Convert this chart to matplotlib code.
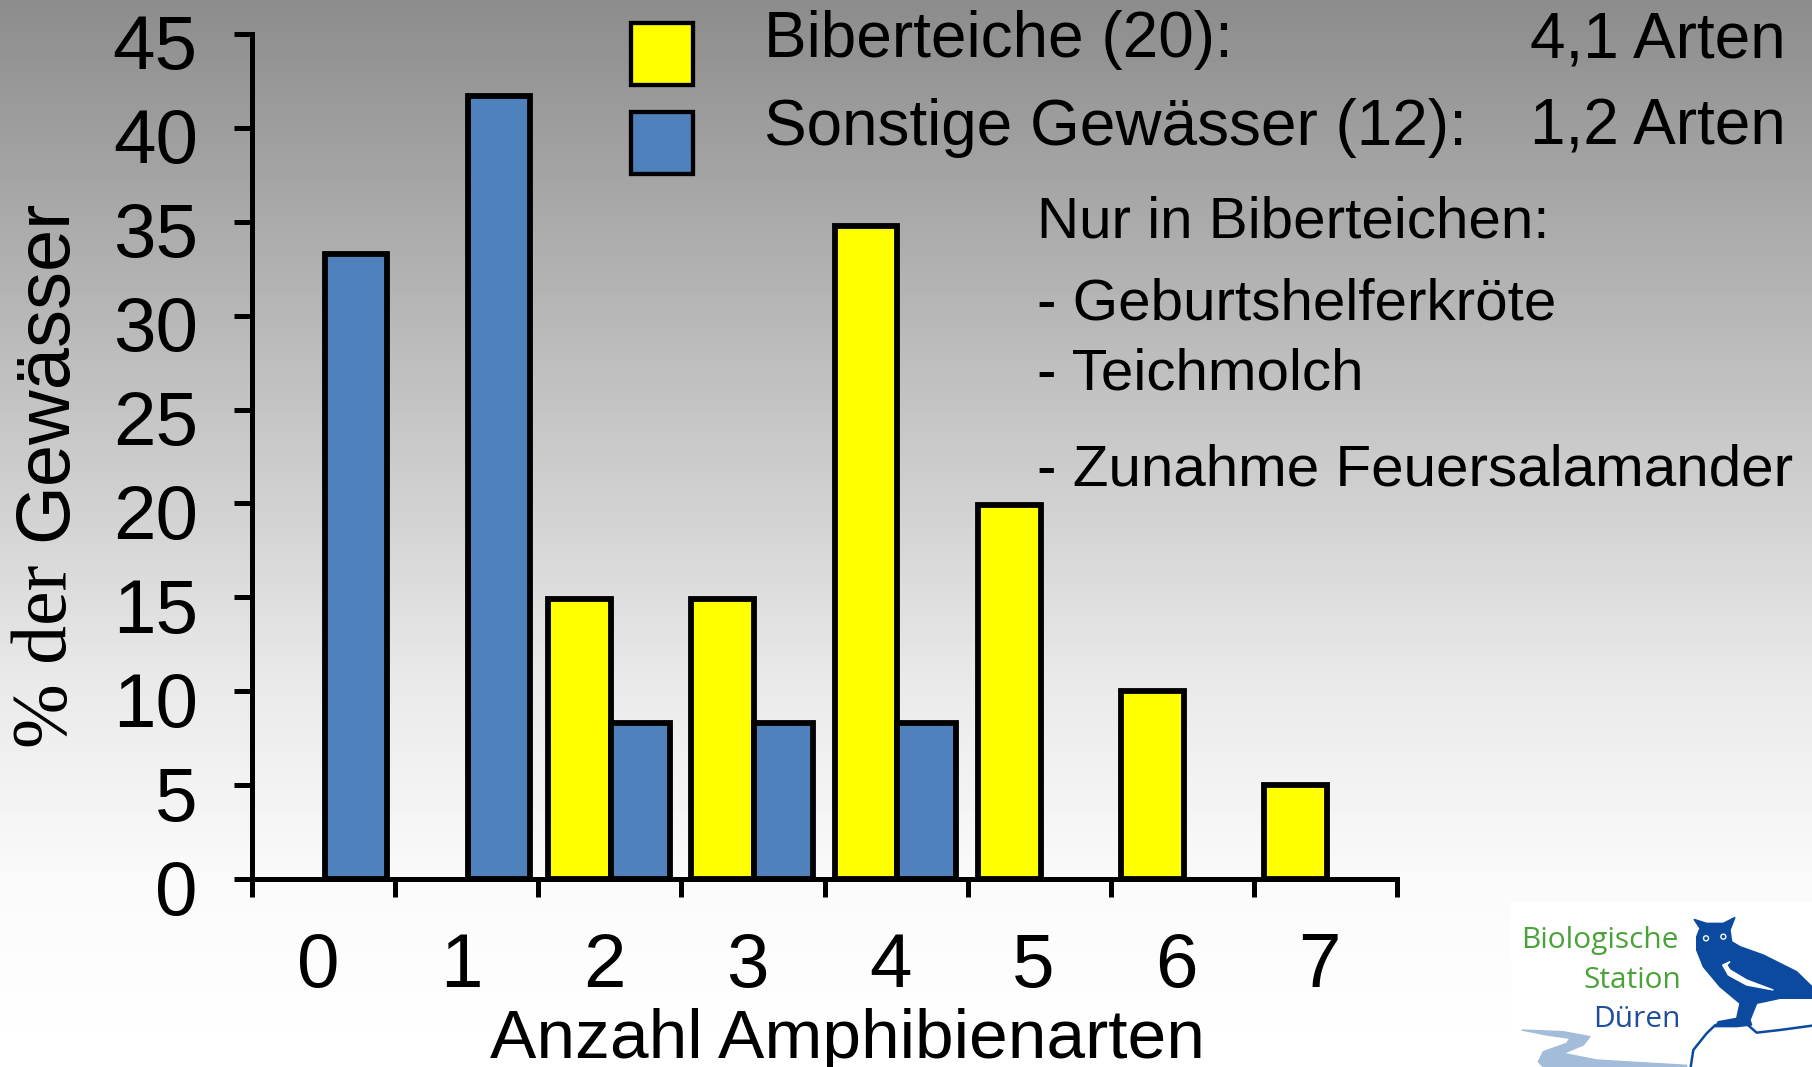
import numpy as np
import matplotlib
matplotlib.use("Agg")
import matplotlib.pyplot as plt
from matplotlib.patches import Polygon, Rectangle, Circle
from matplotlib.transforms import ScaledTranslation

W = 1812
H = 1067

# Daten
arten = [0, 1, 2, 3, 4, 5, 6, 7]
biberteiche = [0, 0, 14.9, 14.9, 34.8, 19.9, 10, 5]
sonstige = [33.3, 41.7, 8.3, 8.3, 8.3, 0, 0, 0]
y_ticks = [0, 5, 10, 15, 20, 25, 30, 35, 40, 45]

plt.rcParams['font.family'] = ['Liberation Sans', 'DejaVu Sans']

fig = plt.figure(figsize=(W / 100, H / 100), dpi=100)


def fx(x):
    return x / W


def fy(y):
    return 1 - y / H


def txt(x, y, s, size=41, **kw):
    kw.setdefault('va', 'baseline')
    fig.text(fx(x), fy(y), s, fontsize=size, **kw)


# Hintergrund Verlauf
bg = fig.add_axes([0, 0, 1, 1], zorder=0)
rows = np.interp(np.arange(H), [0, 350, 680, 880, 1067], [140, 188, 233, 250, 255]) / 255
bg.imshow(rows.reshape(-1, 1), cmap='gray', vmin=0, vmax=1, aspect='auto')
bg.axis('off')

# Diagramm
ax = fig.add_axes([fx(252), fy(879), (1397 - 252) / W, (879 - 34) / H], zorder=1)
ax.patch.set_visible(False)

lw = 4.2
for i in arten:
    if biberteiche[i] > 0:
        ax.bar(i + 0.07, biberteiche[i], 0.44, align='edge', color='#ffff00',
               edgecolor='black', linewidth=lw, clip_on=False)
    if sonstige[i] > 0:
        # die ersten beiden blauen Balken sind im Original etwas breiter
        ax.bar(i + 0.51, sonstige[i], 0.43 if i < 2 else 0.41, align='edge', color='#4f81bd',
               edgecolor='black', linewidth=lw, clip_on=False)

ax.set_xlim(0, 8)
ax.set_ylim(0, 45)
for s in ['top', 'right']:
    ax.spines[s].set_visible(False)
for s in ['left', 'bottom']:
    ax.spines[s].set_linewidth(3.6)
    ax.spines[s].set_zorder(5)

ax.set_yticks(y_ticks)
ax.set_xticks(range(9))
ax.set_xticklabels([])
ax.set_xticks([i + 0.46 for i in arten], [str(i) for i in arten], minor=True)
ax.tick_params(axis='both', which='major', width=3.6, length=13)
ax.tick_params(axis='y', labelsize=55, pad=26)
ax.tick_params(axis='x', which='minor', length=0, labelsize=55, pad=38)

# Beschriftungen sitzen im Original etwas tiefer als die Striche
off = ScaledTranslation(0, -8 / 100, fig.dpi_scale_trans)
for t in ax.get_yticklabels():
    t.set_transform(t.get_transform() + off)

# Achsentitel
txt(847, 1058, 'Anzahl Amphibienarten', size=50, ha='center')
txt(66, 748, '% der', size=56, rotation=90, rotation_mode='anchor', ha='left',
    family=['Liberation Serif', 'DejaVu Serif'])
txt(66, 541, 'Gewässer', size=54.5, rotation=90, rotation_mode='anchor', ha='left')

# Legende
for y0, c in [(23, '#ffff00'), (112, '#4f81bd')]:
    fig.add_artist(Rectangle((fx(631), fy(y0 + 62)), 62 / W, 62 / H, facecolor=c,
                             edgecolor='black', linewidth=3.1, transform=fig.transFigure))

txt(764, 57, 'Biberteiche (20):', size=46)
txt(764, 145, 'Sonstige Gewässer (12):', size=46)
txt(1786, 57, '4,1 Arten', size=46, ha='right')
txt(1786, 145, '1,2 Arten', size=46, ha='right')
txt(1037, 237, 'Nur in Biberteichen:', size=42)
txt(1037, 320, '- Geburtshelferkröte', size=42)
txt(1037, 390, '- Teichmolch', size=42)
txt(1037, 485, '- Zunahme Feuersalamander', size=42)

# Logo
logo = fig.add_axes([0, 0, 1, 1], zorder=2)
logo.set_xlim(0, W)
logo.set_ylim(H, 0)
logo.axis('off')
logo.add_patch(Rectangle((1511, 902), W - 1511, H - 902, color='white'))


def zp(points):
    return [(1480 + x / 3, 880 + y / 3) for x, y in points]


fluss = [(125, 450), (250, 455), (330, 470), (310, 495), (250, 520), (350, 540), (620, 556),
         (620, 561), (190, 561), (175, 545), (190, 515), (260, 490), (270, 475), (200, 465)]
logo.add_patch(Polygon(zp(fluss), color='#a3bcd9'))

eule = [(642, 118), (680, 130), (730, 130), (765, 112), (750, 150), (755, 185), (780, 200),
        (850, 225), (950, 275), (996, 320), (996, 355), (900, 355), (830, 370), (810, 420),
        (815, 435), (770, 440), (705, 440), (715, 425), (770, 415), (780, 370), (720, 320),
        (670, 260), (650, 210), (650, 170), (660, 145)]
logo.add_patch(Polygon(zp(eule), color='#0b4a9e'))
fluegel = [(750, 245), (728, 255), (745, 285), (800, 315), (880, 330), (800, 300), (750, 270), (740, 255)]
logo.add_patch(Polygon(zp(fluegel), color='white'))
for p in [(678, 175), (730, 170)]:
    logo.add_patch(Circle(zp([p])[0], 2.5, color='white'))
    logo.add_patch(Circle(zp([p])[0], 1.1, color='#0b4a9e'))

ast1 = [(632, 561), (640, 510), (680, 460), (705, 436)]
ast2 = [(800, 432), (830, 458), (900, 450), (996, 437)]
for a in [ast1, ast2]:
    xs, ys = zip(*zp(a))
    logo.plot(xs, ys, color='#0b4a9e', lw=1.8)

txt(1679, 948, 'Biologische', size=21.5, ha='right', color='#4aa338', zorder=5,
    family=['Open Sans', 'DejaVu Sans'])
txt(1681, 988, 'Station', size=21.5, ha='right', color='#4aa338', zorder=5,
    family=['Open Sans', 'DejaVu Sans'])
txt(1681, 1027, 'Düren', size=21.5, ha='right', color='#1f4e9c', zorder=5,
    family=['Open Sans', 'DejaVu Sans'])

fig.savefig('out.png', dpi=100)
